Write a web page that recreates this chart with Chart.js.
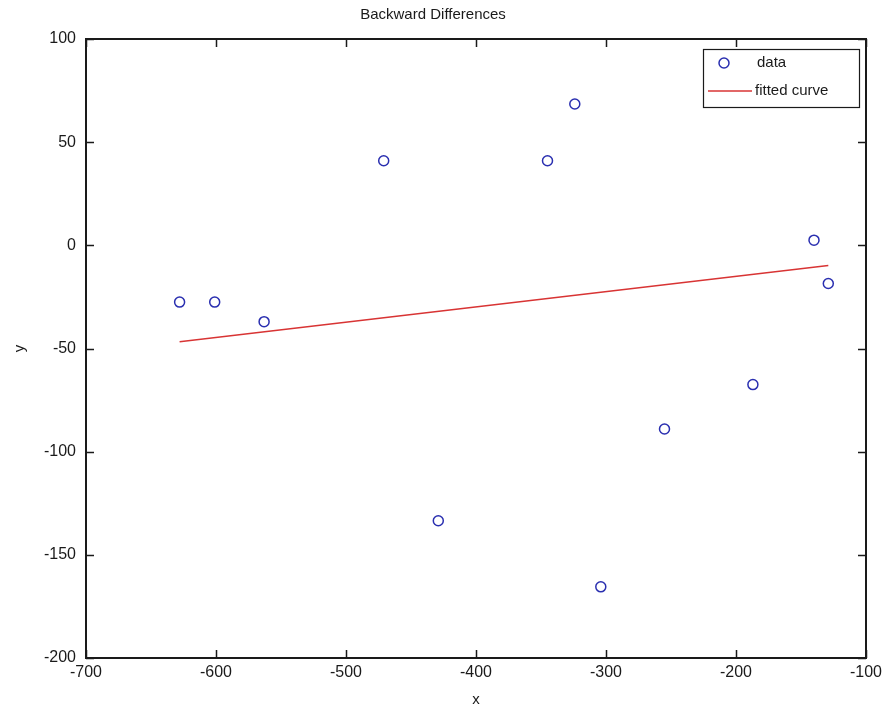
<!DOCTYPE html>
<html>
<head>
<meta charset="utf-8">
<script src="https://cdn.jsdelivr.net/npm/chart.js@4/dist/chart.umd.min.js"></script>
<style>
  html, body { margin: 0; padding: 0; background: #fff; }
  #wrap { width: 883px; height: 713px; }
</style>
</head>
<body>
<div id="wrap"><canvas id="plot" width="883" height="713"></canvas></div>
<script>
// values
const dataX = [-628, -601, -563, -471, -429, -345, -324, -304, -255, -187, -140, -129];
const dataY = [-27.5, -27.5, -37, 41, -133.5, 41, 68.5, -165.5, -89, -67.5, 2.5, -18.5];
const fitX = [-628, -129];
const fitY = [-46.7, -9.8];

const xTicks = [-700, -600, -500, -400, -300, -200, -100];
const yTicks = [-200, -150, -100, -50, 0, 50, 100];

const FONT = 'Liberation Sans, Arial, sans-serif';
const INK = '#1a1a1a';
const BLUE = '#2a2fb0';
const RED = '#d83434';

// box + inward ticks like the matlab axes
const frameTicks = {
  id: 'frameTicks',
  afterDatasetsDraw(chart) {
    const { ctx, chartArea: a, scales } = chart;
    const len = 8;
    ctx.save();
    ctx.strokeStyle = INK;
    ctx.lineWidth = 1.5;
    ctx.beginPath();
    xTicks.forEach(v => {
      const px = Math.round(scales.x.getPixelForValue(v)) + 0.5;
      ctx.moveTo(px, a.bottom); ctx.lineTo(px, a.bottom - len);
      ctx.moveTo(px, a.top); ctx.lineTo(px, a.top + len);
    });
    yTicks.forEach(v => {
      const py = Math.round(scales.y.getPixelForValue(v)) + 0.5;
      ctx.moveTo(a.left, py); ctx.lineTo(a.left + len, py);
      ctx.moveTo(a.right, py); ctx.lineTo(a.right - len, py);
    });
    ctx.stroke();
    ctx.lineWidth = 2;
    ctx.strokeRect(Math.round(a.left), Math.round(a.top), Math.round(a.right - a.left), Math.round(a.bottom - a.top));

    // legend box in the upper right corner
    const bx = a.right - 163, by = a.top + 10, bw = 156, bh = 58;
    ctx.fillStyle = '#fff';
    ctx.fillRect(bx, by, bw, bh);
    ctx.lineWidth = 1.2;
    ctx.strokeRect(bx + 0.5, by + 0.5, bw, bh);

    const ds = chart.data.datasets;
    ctx.strokeStyle = ds[0].borderColor;
    ctx.lineWidth = ds[0].borderWidth;
    ctx.beginPath();
    ctx.arc(bx + 21, by + 14, ds[0].pointRadius, 0, Math.PI * 2);
    ctx.stroke();

    ctx.strokeStyle = ds[1].borderColor;
    ctx.lineWidth = ds[1].borderWidth;
    ctx.beginPath();
    ctx.moveTo(bx + 5, by + 42); ctx.lineTo(bx + 49, by + 42);
    ctx.stroke();

    ctx.fillStyle = INK;
    ctx.font = '15px ' + FONT;
    ctx.textBaseline = 'middle';
    ctx.textAlign = 'left';
    ctx.fillText(ds[0].label, bx + 54, by + 14);
    ctx.fillText(ds[1].label, bx + 52, by + 42);
    ctx.restore();
  }
};

new Chart(document.getElementById('plot'), {
  type: 'scatter',
  data: {
    datasets: [
      {
        label: 'data',
        data: dataX.map((x, i) => ({ x: x, y: dataY[i] })),
        borderColor: BLUE,
        backgroundColor: 'transparent',
        borderWidth: 1.5,
        pointRadius: 5,
        pointHoverRadius: 5,
        showLine: false
      },
      {
        label: 'fitted curve',
        data: fitX.map((x, i) => ({ x: x, y: fitY[i] })),
        borderColor: RED,
        backgroundColor: RED,
        borderWidth: 1.5,
        pointRadius: 0,
        showLine: true
      }
    ]
  },
  options: {
    responsive: false,
    animation: false,
    layout: { padding: { left: 0, right: 17, top: 0, bottom: 0 } },
    plugins: {
      legend: { display: false },
      tooltip: { enabled: false },
      title: {
        display: true,
        text: 'Backward Differences',
        color: INK,
        font: { family: FONT, size: 15, weight: 'normal' },
        padding: { top: 6, bottom: 15 }
      }
    },
    scales: {
      x: {
        type: 'linear',
        min: -700,
        max: -100,
        afterBuildTicks: s => { s.ticks = xTicks.map(v => ({ value: v })); },
        afterFit: s => { s.height = 55; s.paddingLeft = 0; s.paddingRight = 0; },
        grid: { display: false, drawTicks: false },
        border: { display: false },
        ticks: { color: INK, font: { family: FONT, size: 16 }, padding: 5 },
        title: { display: true, text: 'x', color: INK, font: { family: FONT, size: 15 }, padding: { top: 4 } }
      },
      y: {
        type: 'linear',
        min: -200,
        max: 100,
        afterBuildTicks: s => { s.ticks = yTicks.map(v => ({ value: v })); },
        afterFit: s => { s.width = 86; s.paddingTop = 0; s.paddingBottom = 0; },
        grid: { display: false, drawTicks: false },
        border: { display: false },
        ticks: { color: INK, font: { family: FONT, size: 16 }, padding: 10 },
        title: { display: true, text: 'y', color: INK, font: { family: FONT, size: 15 }, padding: { top: 11, bottom: 0 } }
      }
    }
  },
  plugins: [frameTicks]
});
</script>
</body>
</html>
